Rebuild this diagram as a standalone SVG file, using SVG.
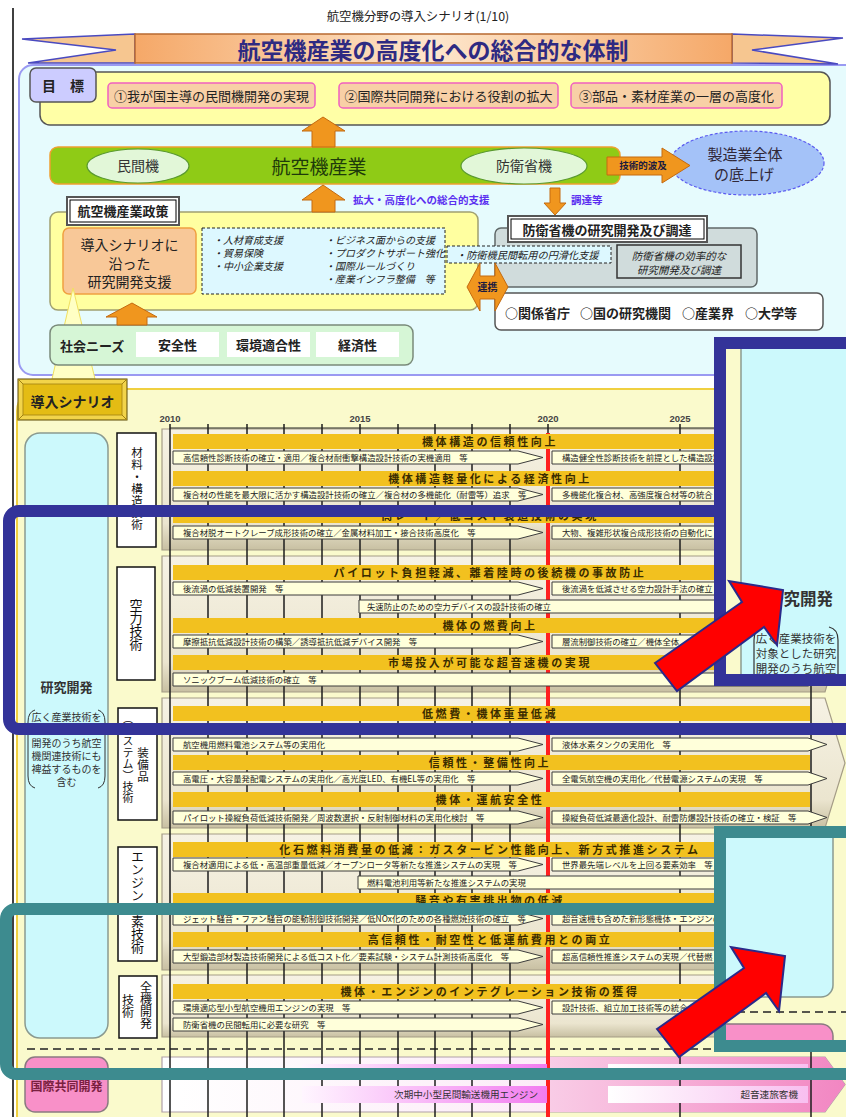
<svg xmlns="http://www.w3.org/2000/svg" width="846" height="1117" viewBox="0 0 846 1117">
<defs>
<linearGradient id="gBanner" x1="0" x2="1" y1="0" y2="0"><stop offset="0" stop-color="#f5a868"/><stop offset="0.5" stop-color="#fde6cc"/><stop offset="1" stop-color="#f5a868"/></linearGradient>
<linearGradient id="gPanel" x1="0" x2="0" y1="0" y2="1"><stop offset="0" stop-color="#f6f2e4"/><stop offset="0.78" stop-color="#ebe5cf"/><stop offset="1" stop-color="#c8c0a2"/></linearGradient>
<linearGradient id="gIntl" x1="0" x2="1" y1="0" y2="0"><stop offset="0" stop-color="#ffffff"/><stop offset="1" stop-color="#fadcf2"/></linearGradient>
<linearGradient id="gIntlR" x1="0" x2="1" y1="0" y2="0"><stop offset="0" stop-color="#f9cce6"/><stop offset="1" stop-color="#f286c2"/></linearGradient>
<linearGradient id="gMag" x1="0" x2="1" y1="0" y2="0"><stop offset="0" stop-color="#fff6ff"/><stop offset="1" stop-color="#f27cf0"/></linearGradient>
<linearGradient id="gWP" x1="0" x2="1" y1="0" y2="0"><stop offset="0" stop-color="#ffffff"/><stop offset="1" stop-color="#f8bff0"/></linearGradient>
<clipPath id="cpBlue"><rect x="726" y="349" width="130" height="325"/></clipPath>
<clipPath id="cpTeal"><rect x="726" y="838" width="130" height="202"/></clipPath>
</defs>
<style>
text{font-family:'Noto Sans CJK JP','Noto Sans CJK SC','Noto Sans',sans-serif}
.bar{fill:#f2c11f}
.bt{font-size:11px;font-weight:bold;letter-spacing:2.6px;text-anchor:middle;fill:#3a2c00}
.ib{fill:#ffffda;stroke:#3c3c3c;stroke-width:1}
.it{font-size:8.4px;fill:#222}
.pnl{fill:url(#gPanel);stroke:#a49c86;stroke-width:1.2}
.grid{stroke:#1c1c1c;stroke-width:1.5}
.cat{fill:#fff;stroke:#111;stroke-width:1.5}
.vt{writing-mode:vertical-rl;fill:#111}
.oa{fill:#f0961e;stroke:#c46a10;stroke-width:1}
.yr{font-family:'Liberation Sans',sans-serif;font-size:9.5px;font-weight:bold;fill:#444;text-anchor:middle}
.ital{font-style:italic;font-size:10px;fill:#222}
.goal{fill:#f8d0a6;stroke:#f060c0;stroke-width:1.5}
.gt{font-size:13px;text-anchor:middle;fill:#222}
.wb{fill:#fff}
.lbl{font-size:13px;font-weight:bold;text-anchor:middle;fill:#222}
</style>
<rect width="846" height="1117" fill="#fff"/>
<g id="page-line"><line x1="13" y1="8" x2="13" y2="1117" stroke="#000" stroke-width="1.5"/></g>
<g id="title"><text x="418" y="21" font-size="12.4" text-anchor="middle" fill="#222">航空機分野の導入シナリオ(1/10)</text></g>

<g id="upper-container"><rect x="19" y="65" width="845" height="310" rx="14" fill="#e6fbfd" stroke="#9a9af2" stroke-width="2"/></g>

<g id="banner">
<polygon points="135,34 22,39 116,50 28,63 135,63" fill="#f6c690" stroke="#4a4ac0" stroke-width="1.5"/>
<polygon points="732,34 843,38 752,50 838,64 732,63" fill="#f6c690" stroke="#4a4ac0" stroke-width="1.5"/>
<rect x="135" y="34" width="597" height="29" fill="url(#gBanner)" stroke="#b86a30" stroke-width="1.5"/>
<text x="433" y="59" font-size="23" font-weight="bold" text-anchor="middle" fill="#2e2a82">航空機産業の高度化への総合的な体制</text>
</g>

<g id="goals">
<rect x="40" y="72" width="790" height="53" rx="10" fill="#ffffa6" stroke="#555" stroke-width="1.5"/>
<rect x="30" y="68" width="66" height="34" rx="6" fill="#ccccff" stroke="#555" stroke-width="1.5"/>
<text x="63" y="91" font-size="14" font-weight="bold" text-anchor="middle" fill="#222">目　標</text>
<g id="goal1"><rect class="goal" x="108" y="83" width="207" height="25" rx="4"/><text class="gt" x="211.5" y="100.5">①我が国主導の民間機開発の実現</text></g>
<g id="goal2"><rect class="goal" x="339" y="83" width="219" height="25" rx="4"/><text class="gt" x="448.5" y="100.5">②国際共同開発における役割の拡大</text></g>
<g id="goal3"><rect class="goal" x="571" y="83" width="211" height="25" rx="4"/><text class="gt" x="676.5" y="100.5">③部品・素材産業の一層の高度化</text></g>
</g>

<g id="industry">
<rect x="50" y="147" width="570" height="37" rx="8" fill="#8fcb16" stroke="#f0a030" stroke-width="1.5"/>
<ellipse cx="138" cy="166" rx="51" ry="17" fill="#e2f7d8" stroke="#5a9a30" stroke-width="1.2"/>
<text x="138" y="171" font-size="14" text-anchor="middle" fill="#333">民間機</text>
<text x="319" y="174" font-size="19" text-anchor="middle" fill="#1e3a0a">航空機産業</text>
<ellipse cx="524" cy="166" rx="63" ry="18" fill="#e2f7d8" stroke="#5a9a30" stroke-width="1.2"/>
<text x="524" y="171" font-size="14" text-anchor="middle" fill="#333">防衛省機</text>
</g>

<g id="manufacturing">
<ellipse cx="747" cy="163" rx="77" ry="32" fill="#a4c2f8" stroke="#5a5af0" stroke-width="1.2" stroke-dasharray="3,2"/>
<text x="745" y="160" font-size="15" text-anchor="middle" fill="#302838">製造業全体</text>
<text x="744" y="180" font-size="15" text-anchor="middle" fill="#302838">の底上げ</text>
</g>

<g id="policy">
<rect x="50" y="212" width="428" height="98" rx="8" fill="#ffffa0" stroke="#a0a070" stroke-width="1.5"/>
<rect x="67" y="197" width="112" height="28" fill="#fff" stroke="#555" stroke-width="2"/>
<rect x="70" y="200" width="106" height="22" fill="none" stroke="#000" stroke-width="1"/>
<text x="123" y="216" font-size="13" font-weight="bold" text-anchor="middle" fill="#222">航空機産業政策</text>
</g>
<g id="rd-support">
<rect x="63" y="228" width="133" height="66" rx="6" fill="#f8c898" stroke="#f0a040" stroke-width="1.5"/>
<text x="129.5" y="250" font-size="14" text-anchor="middle" fill="#222">導入シナリオに</text>
<text x="129.5" y="268.5" font-size="14" text-anchor="middle" fill="#222">沿った</text>
<text x="129.5" y="287" font-size="14" text-anchor="middle" fill="#222">研究開発支援</text>
</g>
<g id="policy-items">
<rect x="202" y="228" width="243" height="66" fill="#ddf8ff" stroke="#222" stroke-width="1" stroke-dasharray="3,2"/>
<text class="ital" x="213" y="244">・人材育成支援</text>
<text class="ital" x="213" y="257">・貿易保険</text>
<text class="ital" x="213" y="270">・中小企業支援</text>
<text class="ital" x="325" y="244">・ビジネス面からの支援</text>
<text class="ital" x="325" y="257">・プロダクトサポート強化</text>
<text class="ital" x="325" y="270">・国際ルールづくり</text>
<text class="ital" x="325" y="283">・産業インフラ整備　等</text>
</g>

<g id="defense">
<rect x="495" y="228" width="262" height="59" rx="6" fill="#d0dcdc" stroke="#606868" stroke-width="1.5"/>
<rect x="508" y="216" width="199" height="26" fill="#fff" stroke="#555" stroke-width="2"/>
<rect x="511" y="219" width="193" height="20" fill="none" stroke="#000" stroke-width="1"/>
<text x="607" y="235" font-size="13" font-weight="bold" text-anchor="middle" fill="#222">防衛省機の研究開発及び調達</text>
<rect x="617" y="245" width="124" height="33" fill="#d0dcdc" stroke="#333" stroke-width="1.5"/>
<text class="ital" x="679" y="259.5" text-anchor="middle" style="font-size:10.5px">防衛省機の効率的な</text>
<text class="ital" x="679" y="274" text-anchor="middle" style="font-size:10.5px">研究開発及び調達</text>
</g>
<g id="conversion">
<rect x="447" y="246" width="164" height="17" fill="#ddf8ff" stroke="#222" stroke-width="1" stroke-dasharray="3,2"/>
<text class="ital" x="456" y="259" style="font-size:10.2px">・防衛機民間転用の円滑化支援</text>
</g>
<g id="partners">
<rect x="495" y="293" width="328" height="37" rx="6" fill="#fff" stroke="#555" stroke-width="1.5"/>
<text x="505" y="318" font-size="13" font-weight="bold" fill="#222">○関係省庁</text>
<text x="580" y="318" font-size="13" font-weight="bold" fill="#222">○国の研究機関</text>
<text x="682" y="318" font-size="13" font-weight="bold" fill="#222">○産業界</text>
<text x="745" y="318" font-size="13" font-weight="bold" fill="#222">○大学等</text>
</g>

<g id="cone"><polygon points="73,288 95,379 52,379" fill="#ffffc4" stroke="#f0e060" stroke-width="1"/></g>

<g id="social-needs">
<rect x="50" y="325" width="363" height="40" rx="8" fill="#d6f6d6" stroke="#7a8a7a" stroke-width="1.5"/>
<text x="60" y="351" font-size="13" font-weight="bold" fill="#222">社会ニーズ</text>
<rect class="wb" x="136" y="332" width="83" height="25"/><text class="lbl" x="177.5" y="350">安全性</text>
<rect class="wb" x="227" y="332" width="83" height="25"/><text class="lbl" x="268.5" y="350">環境適合性</text>
<rect class="wb" x="316" y="332" width="83" height="25"/><text class="lbl" x="357.5" y="350">経済性</text>
</g>

<g id="connectors">
<polygon class="oa" points="323,117 345,131 335,131 335,147 312,147 312,131 302,131"/>
<polygon class="oa" points="323,185 345,200 335,200 335,212 312,212 312,200 302,200"/>
<text x="353" y="204" font-size="10.5" font-weight="bold" fill="#5b2ff0">拡大・高度化への総合的支援</text>
<polygon class="oa" points="550,188 560,188 560,203 566,203 555,215 544,203 550,203"/>
<text x="571" y="204" font-size="10.5" font-weight="bold" fill="#5b2ff0">調達等</text>
<polygon class="oa" points="607,157 662,157 662,148 690,165.5 662,183 662,175 607,175"/>
<text x="643" y="169" font-size="9.5" font-weight="bold" text-anchor="middle" fill="#1a1a40">技術的波及</text>
<polygon class="oa" points="467,287 480,263 480,276 495,276 495,263 508,287 495,311 495,299 480,299 480,311"/>
<text x="487.5" y="291" font-size="10" font-weight="bold" text-anchor="middle" fill="#1a1a40">連携</text>
<polygon class="oa" points="132,303 157,317 147,317 147,325 117,325 117,317 106,317"/>
</g>

<g id="scenario-section">
<rect x="17" y="389" width="840" height="750" rx="22" fill="#fafacc" stroke="#f0d040" stroke-width="2"/>
</g>
<g id="scenario-label">
<rect x="18" y="379" width="109" height="41" fill="#f2d44a" stroke="#5a4800" stroke-width="1"/>
<rect x="23" y="384" width="99" height="31" fill="#e4bc14" stroke="#a08010" stroke-width="0.8"/>
<line x1="18" y1="379" x2="23" y2="384" stroke="#a08010"/><line x1="127" y1="420" x2="122" y2="415" stroke="#a08010"/>
<line x1="127" y1="379" x2="122" y2="384" stroke="#a08010"/><line x1="18" y1="420" x2="23" y2="415" stroke="#a08010"/>
<text x="72.5" y="407" font-size="14" font-weight="bold" text-anchor="middle" fill="#222">導入シナリオ</text>
</g>

<g id="rd-box">
<rect x="25" y="433" width="83" height="605" rx="15" fill="#ccf9fc" stroke="#8a9a90" stroke-width="1.5"/>
<text x="66.5" y="692" font-size="13" font-weight="bold" text-anchor="middle" fill="#333">研究開発</text>
<path d="M35,710 Q28,712 28,722 L28,776 Q28,786 35,788" fill="none" stroke="#333" stroke-width="1"/>
<path d="M98,710 Q105,712 105,722 L105,776 Q105,786 98,788" fill="none" stroke="#333" stroke-width="1"/>
<g font-size="10" text-anchor="middle" fill="#333">
<text x="66.5" y="721">広く産業技術を</text>
<text x="66.5" y="734">対象とした研究</text>
<text x="66.5" y="747">開発のうち航空</text>
<text x="66.5" y="760">機関連技術にも</text>
<text x="66.5" y="773">裨益するものを</text>
<text x="66.5" y="786">含む</text>
</g>
</g>
<g id="intl-box">
<rect x="25" y="1057" width="83" height="55" rx="10" fill="#f890c8" stroke="#8a7a80" stroke-width="1.5"/>
<text x="66.5" y="1091" font-size="12" font-weight="bold" text-anchor="middle" fill="#7a2040">国際共同開発</text>
</g>
<line x1="27" y1="1049" x2="846" y2="1049" stroke="#222" stroke-width="1.5" stroke-dasharray="8,5"/>

<g id="categories">
<g id="cat-materials"><rect class="cat" x="117" y="433" width="39" height="114"/>
<text class="vt" x="137" y="447" style="font-size:11.5px;letter-spacing:0.5px">材料・構造技術</text></g>
<g id="cat-aero"><rect class="cat" x="117" y="567" width="38" height="113"/>
<text class="vt" x="136" y="599" style="font-size:13px">空力技術</text></g>
<g id="cat-equipment"><rect class="cat" x="118" y="708" width="39" height="112"/>
<text class="vt" x="143" y="747" style="font-size:11.5px;letter-spacing:0.5px">装備品</text>
<text class="vt" x="128" y="713" style="font-size:11px;letter-spacing:0.4px">（システム）技術</text></g>
<g id="cat-engine"><rect class="cat" x="118" y="847" width="39" height="114"/>
<text class="vt" x="137.5" y="850" style="font-size:13px">エンジン要素技術</text></g>
<g id="cat-aircraft"><rect class="cat" x="119" y="976" width="38" height="62"/>
<text class="vt" x="146" y="981" style="font-size:12px">全機開発</text>
<text class="vt" x="128" y="994" style="font-size:12px">技術</text></g>
</g>

<g id="timeline-panels">
<polygon class="pnl" points="162,429 825,429 845,489.5 825,550 162,550"/>
<polygon class="pnl" points="162,556 825,556 845,624 825,692 162,692"/>
<polygon class="pnl" points="162,698 825,698 845,763 825,828 162,828"/>
<polygon class="pnl" points="162,834 825,834 845,902 825,970 162,970"/>
<polygon class="pnl" points="162,975 825,975 845,1006 825,1037 162,1037"/>
<polygon points="162,1057 825,1057 845,1084.5 825,1112 162,1112" fill="url(#gIntl)" stroke="#b0a0a8" stroke-width="1.2"/>
<polygon points="549,1057 825,1057 845,1084.5 825,1112 549,1112" fill="url(#gIntlR)"/>
</g>

<g id="axis">
<text class="yr" x="170" y="422">2010</text><text class="yr" x="360" y="422">2015</text><text class="yr" x="548" y="422">2020</text><text class="yr" x="680" y="422">2025</text>
<line x1="170" y1="428" x2="846" y2="428" stroke="#222" stroke-width="1.2"/>
<g class="grid">
<line x1="170" y1="424" x2="170" y2="1117"/><line x1="208" y1="424" x2="208" y2="1117"/><line x1="247" y1="424" x2="247" y2="1117"/><line x1="284" y1="424" x2="284" y2="1117"/><line x1="322" y1="424" x2="322" y2="1117"/><line x1="360" y1="424" x2="360" y2="1117"/><line x1="398" y1="424" x2="398" y2="1117"/><line x1="435" y1="424" x2="435" y2="1117"/><line x1="472" y1="424" x2="472" y2="1117"/><line x1="510" y1="424" x2="510" y2="1117"/><line x1="548" y1="424" x2="548" y2="1117"/><line x1="680" y1="424" x2="680" y2="1117"/><line x1="811" y1="424" x2="811" y2="1117"/>
</g>
<line x1="548" y1="433" x2="548" y2="1117" stroke="#ff2020" stroke-width="4"/>
</g>

<g id="intl-rows">
<rect x="302" y="1064" width="245" height="15" fill="url(#gMag)"/>
<rect x="302" y="1086" width="245" height="17" fill="url(#gMag)"/>
<text x="538" y="1098" font-size="9.6" text-anchor="end" fill="#333">次期中小型民間輸送機用エンジン</text>
<rect x="608" y="1064" width="200" height="15" fill="url(#gWP)"/>
<rect x="608" y="1086" width="200" height="17" fill="url(#gWP)"/>
<text x="798" y="1098" font-size="9.6" text-anchor="end" fill="#333">超音速旅客機</text>
</g>

<g id="bars">
<rect class="bar" x="173" y="434" width="637" height="15"/><text class="bt" x="490" y="445.5">機体構造の信頼性向上</text>
<rect class="bar" x="173" y="471" width="637" height="15"/><text class="bt" x="490" y="482.5">機体構造軽量化による経済性向上</text>
<rect class="bar" x="173" y="508" width="637" height="15"/><text class="bt" x="490" y="519.5">高レート／低コスト製造技術の実現</text>
<rect class="bar" x="173" y="565" width="637" height="15"/><text class="bt" x="490" y="576.5">パイロット負担軽減、離着陸時の後続機の事故防止</text>
<rect class="bar" x="173" y="618" width="637" height="15"/><text class="bt" x="490" y="629.5">機体の燃費向上</text>
<rect class="bar" x="173" y="655" width="637" height="15"/><text class="bt" x="490" y="666.5">市場投入が可能な超音速機の実現</text>
<rect class="bar" x="173" y="706" width="637" height="15"/><text class="bt" x="490" y="717.5">低燃費・機体重量低減</text>
<rect class="bar" x="173" y="755" width="637" height="15"/><text class="bt" x="490" y="766.5">信頼性・整備性向上</text>
<rect class="bar" x="173" y="792" width="637" height="15"/><text class="bt" x="490" y="803.5">機体・運航安全性</text>
<rect class="bar" x="173" y="842" width="637" height="15"/><text class="bt" x="490" y="853.5">化石燃料消費量の低減：ガスタービン性能向上、新方式推進システム</text>
<rect class="bar" x="173" y="893" width="637" height="15"/><text class="bt" x="490" y="904.5">騒音や有害排出物の低減</text>
<rect class="bar" x="173" y="932" width="637" height="15"/><text class="bt" x="490" y="943.5">高信頼性・耐空性と低運航費用との両立</text>
<rect class="bar" x="173" y="984" width="637" height="15"/><text class="bt" x="490" y="995.5">機体・エンジンのインテグレーション技術の獲得</text>
</g>

<g id="items">
<polygon class="ib" points="173,451 518,451 543,457.5 518,464 173,464"/><text class="it" x="183" y="461">高信頼性診断技術の確立・適用／複合材耐衝撃構造設計技術の実機適用　等</text>
<polygon class="ib" points="552,451 808,451 827,457.5 808,464 552,464"/><text class="it" x="562" y="461">構造健全性診断技術を前提とした構造設計</text>
<polygon class="ib" points="173,488 518,488 543,494.5 518,501 173,501"/><text class="it" x="183" y="498">複合材の性能を最大限に活かす構造設計技術の確立／複合材の多機能化（耐雷等）追求　等</text>
<polygon class="ib" points="552,488 808,488 827,494.5 808,501 552,501"/><text class="it" x="562" y="498">多機能化複合材、高強度複合材等の統合</text>
<polygon class="ib" points="173,526 518,526 543,532.5 518,539 173,539"/><text class="it" x="183" y="536">複合材脱オートクレーブ成形技術の確立／金属材料加工・接合技術高度化　等</text>
<polygon class="ib" points="552,526 808,526 827,532.5 808,539 552,539"/><text class="it" x="562" y="536">大物、複雑形状複合成形技術の自動化に</text>

<polygon class="ib" points="173,582 518,582 543,588.5 518,595 173,595"/><text class="it" x="183" y="592">後流渦の低減装置開発　等</text>
<polygon class="ib" points="552,582 808,582 827,588.5 808,595 552,595"/><text class="it" x="562" y="592">後流渦を低減させる空力設計手法の確立</text>
<polygon class="ib" points="359,600 808,600 827,606.5 808,613 359,613"/><text class="it" x="367" y="610">失速防止のための空力デバイスの設計技術の確立</text>
<polygon class="ib" points="173,635 518,635 543,641.5 518,648 173,648"/><text class="it" x="183" y="645">摩擦抵抗低減設計技術の構築／誘導抵抗低減デバイス開発　等</text>
<polygon class="ib" points="552,635 808,635 827,641.5 808,648 552,648"/><text class="it" x="562" y="645">層流制御技術の確立／機体全体</text>
<polygon class="ib" points="173,673 808,673 827,679.5 808,686 173,686"/><text class="it" x="183" y="683">ソニックブーム低減技術の確立　等</text>

<polygon class="ib" points="173,738 518,738 543,744.5 518,751 173,751"/><text class="it" x="183" y="748">航空機用燃料電池システム等の実用化</text>
<polygon class="ib" points="552,738 808,738 827,744.5 808,751 552,751"/><text class="it" x="562" y="748">液体水素タンクの実用化　等</text>
<polygon class="ib" points="173,772 518,772 543,778.5 518,785 173,785"/><text class="it" x="183" y="782">高電圧・大容量発配電システムの実用化／高光度LED、有機EL等の実用化　等</text>
<polygon class="ib" points="552,772 808,772 827,778.5 808,785 552,785"/><text class="it" x="562" y="782">全電気航空機の実用化／代替電源システムの実現　等</text>
<polygon class="ib" points="173,811 518,811 543,817.5 518,824 173,824"/><text class="it" x="183" y="821">パイロット操縦負荷低減技術開発／周波数選択・反射制御材料の実用化検討　等</text>
<polygon class="ib" points="552,811 808,811 827,817.5 808,824 552,824"/><text class="it" x="562" y="821">操縦負荷低減最適化設計、耐雷防爆設計技術の確立・検証　等</text>

<polygon class="ib" points="173,858 518,858 543,864.5 518,871 173,871"/><text class="it" x="183" y="868">複合材適用による低・高温部重量低減／オープンロータ等新たな推進システムの実現　等</text>
<polygon class="ib" points="552,858 808,858 827,864.5 808,871 552,871"/><text class="it" x="562" y="868">世界最先端レベルを上回る要素効率　等</text>
<polygon class="ib" points="358,876 808,876 827,882.5 808,889 358,889"/><text class="it" x="367" y="886">燃料電池利用等新たな推進システムの実現</text>
<polygon class="ib" points="173,912 518,912 543,918.5 518,925 173,925"/><text class="it" x="183" y="922">ジェット騒音・ファン騒音の能動制御技術開発／低NOx化のための各種燃焼技術の確立　等</text>
<polygon class="ib" points="552,912 808,912 827,918.5 808,925 552,925"/><text class="it" x="562" y="922">超音速機も含めた新形態機体・エンジンの</text>
<polygon class="ib" points="173,950 518,950 543,956.5 518,963 173,963"/><text class="it" x="183" y="960">大型鍛造部材製造技術開発による低コスト化／要素試験・システム計測技術高度化　等</text>
<polygon class="ib" points="552,950 808,950 827,956.5 808,963 552,963"/><text class="it" x="562" y="960">超高信頼性推進システムの実現／代替燃</text>

<polygon class="ib" points="173,1001 518,1001 543,1007.5 518,1014 173,1014"/><text class="it" x="183" y="1011">環境適応型小型航空機用エンジンの実現　等</text>
<polygon class="ib" points="552,1001 808,1001 827,1007.5 808,1014 552,1014"/><text class="it" x="562" y="1011">設計技術、組立加工技術等の統合</text>
<polygon class="ib" points="173,1018 518,1018 543,1024.5 518,1031 173,1031"/><text class="it" x="183" y="1028">防衛省機の民間転用に必要な研究　等</text>
</g>

<g id="blue-highlight">
<rect x="9" y="511" width="860" height="218" rx="10" fill="none" stroke="#333399" stroke-width="12"/>
<rect x="720" y="343" width="140" height="337" fill="#ccfafc"/>
<g clip-path="url(#cpBlue)">
<rect x="700" y="300" width="41" height="420" fill="#fafacc"/>
<rect x="741" y="300" width="200" height="420" fill="#ccf9fc" stroke="#8a9a90" stroke-width="1.5"/>
<text x="800" y="605" font-size="16.5" font-weight="bold" text-anchor="middle" fill="#333">研究開発</text>
<text x="796" y="643" font-size="11.5" text-anchor="middle" fill="#333">広く産業技術を</text>
<text x="796" y="658" font-size="11.5" text-anchor="middle" fill="#333">対象とした研究</text>
<text x="796" y="673" font-size="11.5" text-anchor="middle" fill="#333">開発のうち航空</text>
<path d="M829,627 Q838,629 838,640 L838,690" fill="none" stroke="#333" stroke-width="1.2"/>
<path d="M763,627 Q754,629 754,640 L754,690" fill="none" stroke="#333" stroke-width="1.2"/>
</g>
<rect x="720" y="343" width="140" height="337" fill="none" stroke="#333399" stroke-width="12"/>
</g>

<g id="teal-highlight">
<rect x="6" y="909" width="860" height="165" rx="10" fill="none" stroke="#3d8b8f" stroke-width="12"/>
<rect x="720" y="832" width="140" height="214" fill="#fafacc"/>
<g clip-path="url(#cpTeal)">
<rect x="690" y="800" width="143" height="197" rx="12" fill="#ccf9fc" stroke="#8a9a90" stroke-width="1.5"/>
<line x1="737" y1="1012" x2="846" y2="1012" stroke="#222" stroke-width="1.5" stroke-dasharray="8,5"/>
<rect x="690" y="1024" width="143" height="60" rx="12" fill="#f890c8" stroke="#8a7a80" stroke-width="1.5"/>
</g>
<rect x="720" y="832" width="140" height="214" fill="none" stroke="#3d8b8f" stroke-width="12"/>
</g>

<g id="red-arrows">
<polygon points="655,663 742,602 729,581 783,590 777,645 764,627 677,691" fill="#ff0000" stroke="#2a2a8a" stroke-width="2"/>
<polygon transform="translate(2,366)" points="655,663 742,602 729,581 783,590 777,645 764,627 677,691" fill="#ff0000" stroke="#2a2a8a" stroke-width="2"/>
</g>
</svg>
